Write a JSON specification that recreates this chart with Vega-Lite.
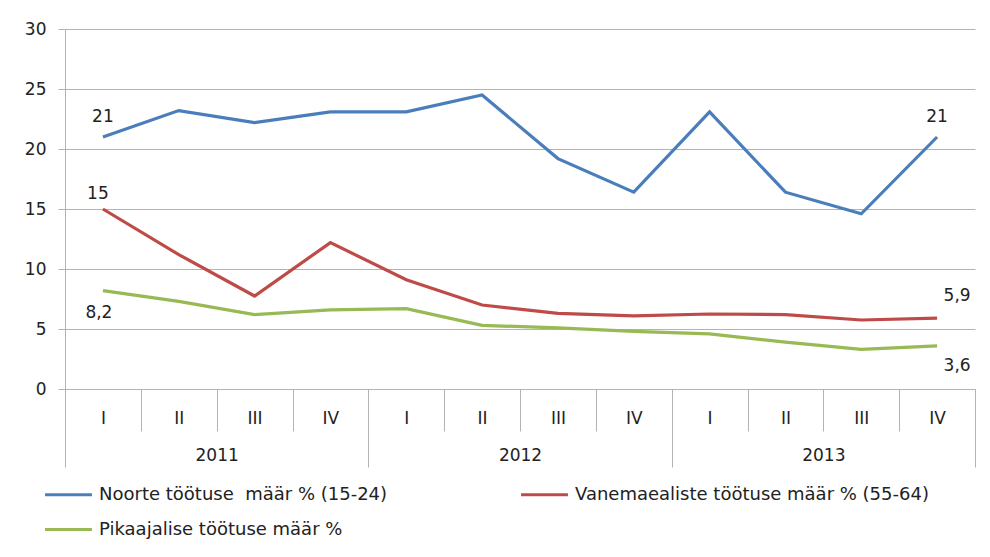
{
  "$schema": "https://vega.github.io/schema/vega-lite/v6.json",
  "width": 910,
  "height": 360,
  "autosize": {"type": "none"},
  "padding": {"left": 65, "top": 29, "right": 15, "bottom": 168},
  "background": "white",
  "config": {
    "view": {"stroke": null},
    "font": "DejaVu Sans",
    "axis": {"labelFont": "DejaVu Sans", "labelColor": "#222222", "labelFontSize": 17}
  },
  "data": {
    "values": [
      {"t": "2011-I", "year": "2011", "series": "Noorte töötuse\u00a0 määr % (15-24)", "value": 21.0, "label": "21"},
      {"t": "2011-II", "year": "2011", "series": "Noorte töötuse\u00a0 määr % (15-24)", "value": 23.2},
      {"t": "2011-III", "year": "2011", "series": "Noorte töötuse\u00a0 määr % (15-24)", "value": 22.2},
      {"t": "2011-IV", "year": "2011", "series": "Noorte töötuse\u00a0 määr % (15-24)", "value": 23.1},
      {"t": "2012-I", "year": "2012", "series": "Noorte töötuse\u00a0 määr % (15-24)", "value": 23.1},
      {"t": "2012-II", "year": "2012", "series": "Noorte töötuse\u00a0 määr % (15-24)", "value": 24.5},
      {"t": "2012-III", "year": "2012", "series": "Noorte töötuse\u00a0 määr % (15-24)", "value": 19.2},
      {"t": "2012-IV", "year": "2012", "series": "Noorte töötuse\u00a0 määr % (15-24)", "value": 16.4},
      {"t": "2013-I", "year": "2013", "series": "Noorte töötuse\u00a0 määr % (15-24)", "value": 23.1},
      {"t": "2013-II", "year": "2013", "series": "Noorte töötuse\u00a0 määr % (15-24)", "value": 16.4},
      {"t": "2013-III", "year": "2013", "series": "Noorte töötuse\u00a0 määr % (15-24)", "value": 14.6},
      {"t": "2013-IV", "year": "2013", "series": "Noorte töötuse\u00a0 määr % (15-24)", "value": 21.0, "label": "21"},
      {"t": "2011-I", "year": "2011", "series": "Vanemaealiste töötuse määr % (55-64)", "value": 15.0, "label": "15"},
      {"t": "2011-II", "year": "2011", "series": "Vanemaealiste töötuse määr % (55-64)", "value": 11.2},
      {"t": "2011-III", "year": "2011", "series": "Vanemaealiste töötuse määr % (55-64)", "value": 7.75},
      {"t": "2011-IV", "year": "2011", "series": "Vanemaealiste töötuse määr % (55-64)", "value": 12.2},
      {"t": "2012-I", "year": "2012", "series": "Vanemaealiste töötuse määr % (55-64)", "value": 9.1},
      {"t": "2012-II", "year": "2012", "series": "Vanemaealiste töötuse määr % (55-64)", "value": 7.0},
      {"t": "2012-III", "year": "2012", "series": "Vanemaealiste töötuse määr % (55-64)", "value": 6.3},
      {"t": "2012-IV", "year": "2012", "series": "Vanemaealiste töötuse määr % (55-64)", "value": 6.1},
      {"t": "2013-I", "year": "2013", "series": "Vanemaealiste töötuse määr % (55-64)", "value": 6.25},
      {"t": "2013-II", "year": "2013", "series": "Vanemaealiste töötuse määr % (55-64)", "value": 6.2},
      {"t": "2013-III", "year": "2013", "series": "Vanemaealiste töötuse määr % (55-64)", "value": 5.75},
      {"t": "2013-IV", "year": "2013", "series": "Vanemaealiste töötuse määr % (55-64)", "value": 5.9, "label": "5,9"},
      {"t": "2011-I", "year": "2011", "series": "Pikaajalise töötuse määr %", "value": 8.2, "label": "8,2"},
      {"t": "2011-II", "year": "2011", "series": "Pikaajalise töötuse määr %", "value": 7.3},
      {"t": "2011-III", "year": "2011", "series": "Pikaajalise töötuse määr %", "value": 6.2},
      {"t": "2011-IV", "year": "2011", "series": "Pikaajalise töötuse määr %", "value": 6.6},
      {"t": "2012-I", "year": "2012", "series": "Pikaajalise töötuse määr %", "value": 6.7},
      {"t": "2012-II", "year": "2012", "series": "Pikaajalise töötuse määr %", "value": 5.3},
      {"t": "2012-III", "year": "2012", "series": "Pikaajalise töötuse määr %", "value": 5.1},
      {"t": "2012-IV", "year": "2012", "series": "Pikaajalise töötuse määr %", "value": 4.8},
      {"t": "2013-I", "year": "2013", "series": "Pikaajalise töötuse määr %", "value": 4.6},
      {"t": "2013-II", "year": "2013", "series": "Pikaajalise töötuse määr %", "value": 3.9},
      {"t": "2013-III", "year": "2013", "series": "Pikaajalise töötuse määr %", "value": 3.3},
      {"t": "2013-IV", "year": "2013", "series": "Pikaajalise töötuse määr %", "value": 3.6, "label": "3,6"}
    ]
  },
  "encoding": {
    "y": {
      "field": "value",
      "type": "quantitative",
      "scale": {"domain": [0, 30], "nice": false, "zero": true},
      "axis": {
        "title": null,
        "values": [0, 5, 10, 15, 20, 25, 30],
        "grid": true,
        "gridColor": "#b3b3b3",
        "gridWidth": 1,
        "domainColor": "#b3b3b3",
        "tickColor": "#b3b3b3",
        "tickSize": 7,
        "labelPadding": 12
      }
    }
  },
  "layer": [
    {
      "encoding": {
        "x": {
          "field": "t",
          "type": "ordinal",
          "sort": null,
          "bandPosition": 0.5,
          "scale": {"type": "band", "paddingInner": 0, "paddingOuter": 0},
          "axis": {
            "title": null,
            "orient": "bottom",
            "labelExpr": "split(datum.value, '-')[1]",
            "tickBand": "extent",
            "tickSize": 42,
            "tickColor": "#b3b3b3",
            "domainColor": "#b3b3b3",
            "labelAngle": 0,
            "labelBaseline": "middle",
            "labelPadding": -13,
            "grid": false
          }
        }
      },
      "layer": [
        {
          "mark": {"type": "line", "strokeWidth": 3.2},
          "encoding": {
            "color": {
              "field": "series",
              "type": "nominal",
              "scale": {
                "domain": ["Noorte töötuse\u00a0 määr % (15-24)", "Vanemaealiste töötuse määr % (55-64)", "Pikaajalise töötuse määr %"],
                "range": ["#4A7EBB", "#BE4B48", "#98B954"]
              },
              "legend": {
                "title": null,
                "orient": "none",
                "legendX": -22,
                "legendY": 440,
                "direction": "horizontal",
                "columns": 2,
                "columnPadding": 126,
                "rowPadding": -13,
                "symbolType": "stroke",
                "symbolSize": 2200,
                "symbolStrokeWidth": 3.2,
                "symbolOffset": 0,
                "labelOffset": 5,
                "labelFont": "DejaVu Sans",
                "labelFontSize": 18,
                "labelColor": "#222222",
                "labelLimit": 500
              }
            }
          }
        },
        {
          "transform": [{"filter": "datum.label == '21'"}],
          "mark": {"type": "text", "dy": -20, "fontSize": 17, "font": "DejaVu Sans", "color": "#222222"},
          "encoding": {"text": {"field": "label"}}
        },
        {
          "transform": [{"filter": "datum.label == '15'"}],
          "mark": {"type": "text", "dy": -15, "dx": -5, "fontSize": 17, "font": "DejaVu Sans", "color": "#222222"},
          "encoding": {"text": {"field": "label"}}
        },
        {
          "transform": [{"filter": "datum.label == '5,9'"}],
          "mark": {"type": "text", "dy": -22, "dx": 20, "fontSize": 17, "font": "DejaVu Sans", "color": "#222222"},
          "encoding": {"text": {"field": "label"}}
        },
        {
          "transform": [{"filter": "datum.label == '8,2'"}],
          "mark": {"type": "text", "dy": 22, "dx": -4, "fontSize": 17, "font": "DejaVu Sans", "color": "#222222"},
          "encoding": {"text": {"field": "label"}}
        },
        {
          "transform": [{"filter": "datum.label == '3,6'"}],
          "mark": {"type": "text", "dy": 20, "dx": 20, "fontSize": 17, "font": "DejaVu Sans", "color": "#222222"},
          "encoding": {"text": {"field": "label"}}
        }
      ]
    },
    {
      "mark": {"type": "point", "opacity": 0},
      "encoding": {
        "x": {
          "field": "year",
          "type": "ordinal",
          "scale": {"type": "band", "paddingInner": 0, "paddingOuter": 0},
          "axis": {
            "title": null,
            "orient": "bottom",
            "tickBand": "extent",
            "tickSize": 78,
            "tickColor": "#b3b3b3",
            "domain": false,
            "labelAngle": 0,
            "labelBaseline": "middle",
            "labelPadding": -12,
            "grid": false
          }
        }
      }
    }
  ],
  "resolve": {"scale": {"x": "independent"}, "axis": {"x": "independent"}}
}
